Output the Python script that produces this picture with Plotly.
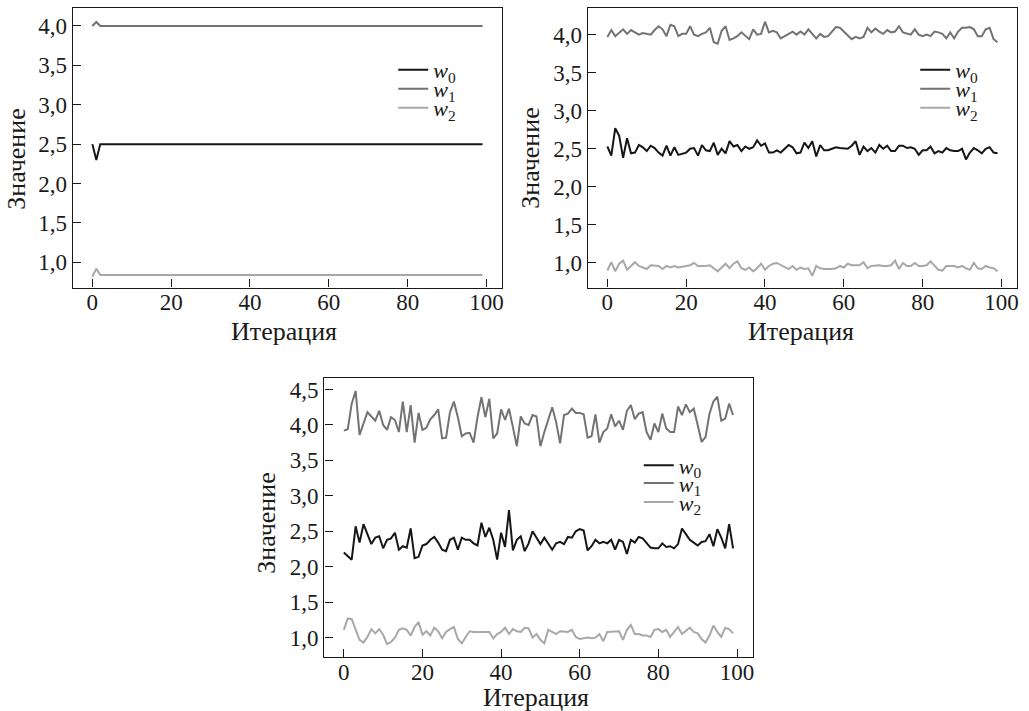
import plotly.graph_objects as go

# ---------------- data ----------------
iterations = list(range(100))

# panel 1 (top-left)
p1_w0 = [2.5, 2.3] + [2.5] * 98
p1_w1 = [4.0, 4.05] + [4.0] * 98
p1_w2 = [0.82, 0.92] + [0.84] * 98

# panel 2 (top-right)
p2_w0 = [2.53, 2.41, 2.77, 2.67, 2.38, 2.64, 2.44, 2.45, 2.55, 2.52,
         2.47, 2.54, 2.51, 2.45, 2.41, 2.54, 2.41, 2.52, 2.42, 2.44,
         2.45, 2.50, 2.51, 2.41, 2.55, 2.48, 2.47, 2.58, 2.42, 2.50,
         2.44, 2.60, 2.53, 2.55, 2.47, 2.53, 2.50, 2.52, 2.61, 2.54,
         2.57, 2.45, 2.45, 2.48, 2.45, 2.50, 2.55, 2.52, 2.44, 2.45,
         2.58, 2.51, 2.60, 2.40, 2.55, 2.48, 2.48, 2.50, 2.52, 2.51,
         2.50, 2.50, 2.54, 2.60, 2.42, 2.53, 2.47, 2.51, 2.45, 2.55,
         2.50, 2.54, 2.47, 2.47, 2.54, 2.54, 2.51, 2.52, 2.50, 2.42,
         2.48, 2.48, 2.53, 2.44, 2.47, 2.45, 2.51, 2.48, 2.47, 2.47,
         2.50, 2.36, 2.45, 2.51, 2.48, 2.44, 2.50, 2.52, 2.45, 2.44]
p2_w1 = [3.97, 4.06, 3.98, 4.03, 4.07, 4.01, 4.06, 4.03, 4.00, 4.02,
         4.01, 4.00, 4.06, 4.11, 4.07, 3.98, 4.13, 4.11, 3.98, 4.01,
         4.01, 4.11, 4.00, 3.98, 4.01, 4.03, 4.09, 3.90, 3.88, 4.05,
         4.11, 3.93, 3.95, 3.98, 4.03, 3.98, 3.94, 4.07, 4.00, 4.01,
         4.17, 4.03, 4.05, 4.03, 3.95, 3.98, 4.01, 4.04, 4.00, 4.04,
         4.00, 4.07, 4.01, 3.95, 4.01, 3.97, 3.98, 4.04, 4.10, 4.09,
         4.04, 3.98, 3.94, 3.97, 3.95, 3.97, 4.09, 4.03, 4.08, 4.04,
         4.01, 4.06, 4.03, 4.04, 4.11, 4.03, 4.01, 4.00, 4.07, 4.00,
         3.98, 4.00, 3.98, 4.04, 4.03, 4.01, 3.95, 4.03, 3.95, 4.04,
         4.09, 4.09, 4.10, 4.07, 3.98, 3.98, 4.07, 4.09, 3.94, 3.90]
p2_w2 = [0.90, 1.01, 0.89, 0.99, 1.03, 0.91, 0.96, 1.01, 0.96, 0.94,
         0.92, 0.97, 0.96, 0.96, 0.92, 0.96, 0.94, 0.96, 0.94, 0.95,
         0.96, 0.97, 1.00, 0.96, 0.96, 0.96, 0.97, 0.93, 0.89, 0.94,
         0.99, 0.93, 0.99, 1.02, 0.93, 0.91, 0.94, 0.89, 0.93, 0.99,
         0.91, 0.96, 0.99, 1.00, 0.97, 0.94, 0.92, 0.96, 0.91, 0.94,
         0.92, 0.93, 0.83, 0.96, 0.93, 0.92, 0.92, 0.92, 0.93, 0.96,
         0.94, 0.99, 0.97, 0.97, 0.97, 1.01, 0.93, 0.96, 0.97, 0.97,
         0.96, 0.96, 0.97, 1.03, 0.92, 1.00, 0.96, 0.96, 1.00, 0.96,
         0.96, 0.97, 1.02, 0.96, 0.91, 0.90, 0.96, 0.96, 0.96, 0.94,
         0.96, 0.93, 0.91, 1.00, 0.93, 0.92, 0.96, 0.94, 0.93, 0.89]

# panel 3 (bottom)
p3_w0 = [2.20, 2.15, 2.10, 2.57, 2.34, 2.60, 2.46, 2.32, 2.41, 2.43,
         2.26, 2.38, 2.40, 2.48, 2.24, 2.29, 2.27, 2.54, 2.12, 2.14,
         2.30, 2.32, 2.38, 2.42, 2.34, 2.24, 2.22, 2.38, 2.41, 2.24,
         2.41, 2.38, 2.38, 2.33, 2.30, 2.62, 2.42, 2.55, 2.38, 2.10,
         2.48, 2.28, 2.80, 2.23, 2.38, 2.43, 2.22, 2.33, 2.50, 2.41,
         2.32, 2.41, 2.33, 2.24, 2.33, 2.35, 2.32, 2.42, 2.41, 2.50,
         2.53, 2.51, 2.23, 2.29, 2.38, 2.33, 2.35, 2.33, 2.38, 2.24,
         2.38, 2.35, 2.18, 2.38, 2.34, 2.42, 2.40, 2.33, 2.27, 2.26,
         2.26, 2.33, 2.28, 2.29, 2.26, 2.32, 2.54, 2.46, 2.38, 2.34,
         2.30, 2.35, 2.36, 2.46, 2.29, 2.53, 2.41, 2.26, 2.60, 2.26]
p3_w1 = [3.92, 3.94, 4.30, 4.48, 3.86, 4.02, 4.18, 4.12, 4.06, 4.20,
         4.00, 3.93, 4.11, 4.07, 3.90, 4.33, 3.90, 4.28, 3.75, 4.17,
         3.93, 3.96, 4.08, 4.14, 4.22, 3.81, 3.82, 4.18, 4.33, 4.11,
         3.84, 3.88, 3.89, 3.75, 4.11, 4.39, 4.11, 4.37, 3.81, 3.88,
         4.22, 4.07, 4.23, 3.97, 3.70, 4.12, 4.02, 4.00, 4.14, 4.12,
         3.70, 3.90, 4.08, 4.25, 4.04, 3.74, 4.14, 4.16, 4.23, 4.17,
         4.17, 4.15, 3.82, 3.84, 4.15, 3.75, 3.90, 3.95, 4.15, 3.98,
         4.06, 3.93, 4.20, 4.28, 4.08, 4.16, 4.18, 3.90, 3.79, 4.02,
         3.90, 4.16, 3.95, 3.90, 3.90, 4.26, 4.14, 4.29, 4.18, 4.23,
         4.00, 3.76, 3.83, 4.16, 4.33, 4.40, 4.06, 4.09, 4.30, 4.14]
p3_w2 = [1.11, 1.27, 1.26, 1.11, 0.97, 0.93, 1.01, 1.12, 1.06, 1.12,
         1.04, 0.91, 0.94, 1.00, 1.11, 1.13, 1.11, 1.03, 1.15, 1.22,
         1.04, 1.09, 1.03, 1.14, 1.09, 0.99, 1.08, 1.12, 1.15, 0.98,
         0.92, 1.01, 1.09, 1.08, 1.08, 1.09, 1.09, 1.08, 0.99, 1.05,
         1.08, 1.14, 1.05, 1.12, 1.09, 1.08, 1.14, 1.13, 1.00, 1.05,
         0.97, 0.92, 1.11, 1.08, 1.05, 1.09, 1.08, 1.08, 1.11, 1.01,
         0.98, 0.99, 1.00, 0.99, 1.00, 1.05, 0.95, 1.08, 1.08, 1.08,
         1.09, 0.97, 1.11, 1.18, 1.05, 1.05, 1.03, 1.03, 1.01, 1.11,
         1.12, 1.08, 1.11, 1.01, 1.08, 1.15, 1.05, 1.09, 1.14, 1.08,
         1.06, 0.98, 0.93, 1.03, 1.17, 1.08, 1.01, 1.14, 1.12, 1.06]

series_names = ["<i>w</i><sub>0</sub>", "<i>w</i><sub>1</sub>", "<i>w</i><sub>2</sub>"]
x_title = "Итерация"
y_title = "Значение"

# ---------------- styling / layout ----------------
W, H = 1029, 711
FONT = "Liberation Serif"
TXT = "#1a1a1a"
colors = ["#161616", "#737373", "#a8a8a8"]

def px_x(v):
    return v / W

def px_y(v):
    return 1 - v / H

# panel frames in pixels: (left, right, top, bottom)
frames = [(73, 503, 7, 287), (589, 1019, 7, 287), (325, 754, 377.7, 656.7)]
yranges = [[0.679, 4.228], [0.676, 4.35], [0.73, 4.66]]
panels = [(p1_w0, p1_w1, p1_w2), (p2_w0, p2_w1, p2_w2), (p3_w0, p3_w1, p3_w2)]
# legend: left x of the box, and centre y of each row
legend_x = [394, 917, 640]
legend_rows = [(69, 88, 107), (69, 88, 107), (465, 483, 502)]
xtitle_pos = [(285, 331), (803, 331), (537, 697)]
ytitle_pos = [(17, 158), (532, 157), (267, 523)]

fig = go.Figure()
layout = dict(
    width=W, height=H,
    margin=dict(l=0, r=0, t=0, b=0),
    paper_bgcolor="white", plot_bgcolor="white",
    separators=", ",
    showlegend=True,
    font=dict(family=FONT, size=22, color=TXT),
    annotations=[],
)

leg_idx = 0
for i, (series, fr) in enumerate(zip(panels, frames)):
    n = "" if i == 0 else str(i + 1)
    for k, (s, name, c) in enumerate(zip(series, series_names, colors)):
        leg_idx += 1
        leg = "legend" if leg_idx == 1 else "legend" + str(leg_idx)
        fig.add_trace(go.Scatter(
            x=iterations, y=s, mode="lines", name=name,
            line=dict(color=c, width=2), showlegend=True,
            xaxis="x" + n, yaxis="y" + n, legend=leg,
        ))
        layout[leg] = dict(
            x=px_x(legend_x[i]), y=px_y(legend_rows[i][k]),
            xanchor="left", yanchor="middle",
            bgcolor="rgba(0,0,0,0)", borderwidth=0,
            font=dict(family=FONT, size=22, color=TXT),
            itemwidth=30,
        )
    l, r, t, b = fr
    axis_common = dict(
        showline=True, linecolor=TXT, linewidth=1.3, mirror=True,
        ticks="inside", ticklen=8, tickwidth=1.2, tickcolor=TXT,
        showgrid=False, zeroline=False,
        tickfont=dict(family=FONT, size=23, color=TXT),
    )
    layout["xaxis" + n] = dict(
        domain=[px_x(l), px_x(r)], range=[-4.95, 103.95],
        tick0=0, dtick=20, anchor="y" + n, ticklabelstandoff=-6, **axis_common,
    )
    layout["yaxis" + n] = dict(
        domain=[px_y(b), px_y(t)], range=yranges[i],
        tick0=0, dtick=0.5, tickformat=".1f", anchor="x" + n, **axis_common,
    )
    xt = xtitle_pos[i]
    layout["annotations"].append(dict(
        text=x_title, x=px_x(xt[0]), y=px_y(xt[1]), xref="paper", yref="paper",
        showarrow=False, xanchor="center", yanchor="middle",
        font=dict(family=FONT, size=26, color=TXT),
    ))
    yt = ytitle_pos[i]
    layout["annotations"].append(dict(
        text=y_title, x=px_x(yt[0]), y=px_y(yt[1]), xref="paper", yref="paper",
        showarrow=False, xanchor="center", yanchor="middle", textangle=-90,
        font=dict(family=FONT, size=26, color=TXT),
    ))

fig.update_layout(**layout)
fig.write_html(
    "out.html",
    config={"displayModeBar": False},
    post_script="document.body.style.margin='0';",
)
